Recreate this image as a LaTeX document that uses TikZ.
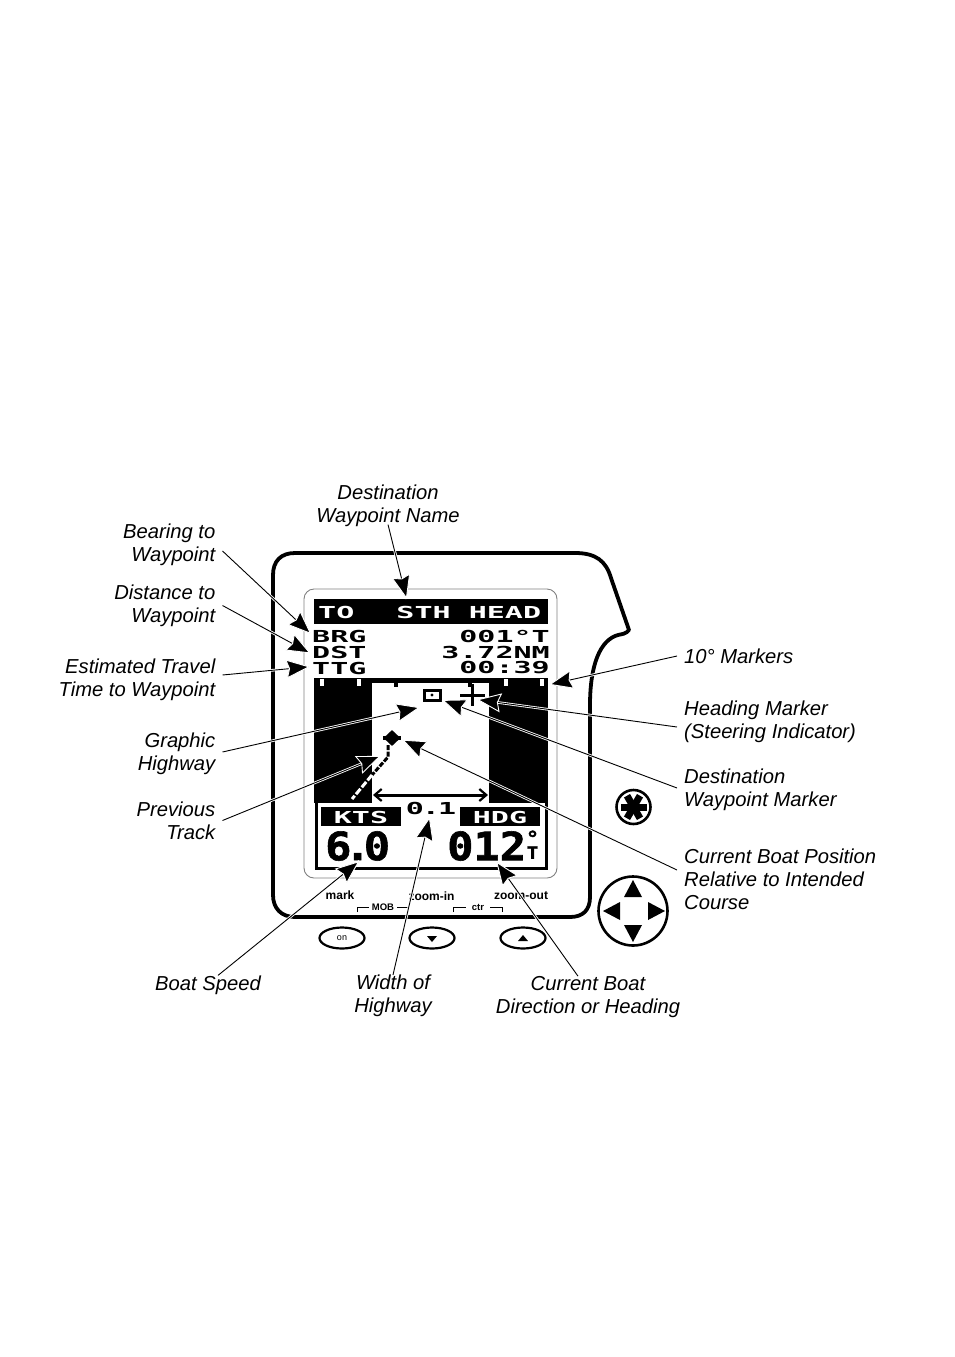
\documentclass[tikz,border=0pt]{standalone}
\usepackage{fontspec}
\usetikzlibrary{arrows.meta,shapes.geometric}
\setmainfont{Liberation Sans}
\newfontfamily\lcdfont[FakeStretch=1.82]{DejaVu Sans Mono}
\newfontfamily\lcdbig[FakeStretch=1.12,FakeBold=1.5]{DejaVu Sans Mono}
\tikzset{
	callout/.style={font=\fontsize{20.2}{23}\selectfont\itshape,inner xsep=7pt,inner ysep=0pt},
	calloutr/.style={callout,align=right,anchor=east},
	calloutl/.style={callout,align=left,anchor=west},
	calloutc/.style={callout,align=center},
	leader/.style={line width=.9pt,shorten >=-3pt,preaction={draw=white,line width=2.6pt,arrows=-},-{Stealth[length=24pt,width=19pt,inset=3pt,fill=black,color=white,line width=.9pt]}},
	lcd/.style={font=\fontsize{16.5}{16.5}\lcdfont\bfseries,inner sep=0pt},
	lcdbar/.style={lcd,text=white},
	lcdlarge/.style={font=\fontsize{39}{39}\lcdbig\bfseries,inner sep=0pt},
	keytext/.style={font=\fontsize{12}{12}\selectfont\bfseries,inner sep=0pt},
	keysmall/.style={font=\fontsize{9.5}{10}\selectfont\bfseries,inner ysep=0pt},
	keybtn/.style={draw,line width=2.2pt,ellipse,minimum width=45pt,minimum height=21pt,inner sep=0pt,fill=white},
	padtip/.style={fill=black,draw=none}
}
\begin{document}
\begin{tikzpicture}[x=1pt,y=-1pt]
	\useasboundingbox (0,0) rectangle (954,1357);
	% case
	\draw[line width=3.8pt,line join=round] (295,917) .. controls (281,917) and (273,908) .. (273,895) -- (273,575)
		.. controls (273,561) and (281,553) .. (295,553) -- (575,553)
		.. controls (596,553) and (606,561) .. (611,578) -- (629,630)
		.. controls (626,634) and (622,634) .. (618,635) .. controls (600,640) and (590,665) .. (590,705)
		-- (590,897) .. controls (590,910) and (583,917) .. (570,917) -- cycle;
	\draw[gray,line width=.9pt,rounded corners=10pt] (304,589) rectangle (557,878);
	% top of the screen
	\fill (314,599) rectangle (548,624);
	\node[lcdbar,anchor=west] (lcdHead) at (318,612) {TO\ \ \hspace{6pt}STH HEAD};
	\node[lcd,anchor=west] (lcdBrg) at (312,636) {BRG};
	\node[lcd,anchor=west] (lcdDst) at (312,652) {DST};
	\node[lcd,anchor=west] (lcdTtg) at (312,668) {TTG};
	\node[lcd,anchor=east] (valBrg) at (550,636) {001°T};
	\node[lcd,anchor=east] (valDst) at (550,652) {3.72NM};
	\node[lcd,anchor=east] (valTtg) at (550,668) {00:39};
	% highway
	\fill (314,678) rectangle (548,683);
	\fill (314,678) rectangle (372,803);
	\fill (489,678) rectangle (548,803);
	\foreach \tickx in {322,359,506,542}
		\draw[white,line width=3.2pt] (\tickx,679) -- (\tickx,686);
	\foreach \tickx in {396,470}
		\draw[line width=3.2pt] (\tickx,683) -- (\tickx,687);
	\node[draw,line width=3pt,minimum width=16pt,minimum height=10pt,inner sep=0pt] (wptBox) at (432,695) {};
	\fill (432,695) circle (1.6pt);
	\coordinate (plusMid) at (472,695);
	\draw[line width=3pt] (460,695) -- (485,695) (plusMid) ++(0,-11) -- ++(0,22);
	\node[diamond,fill=black,minimum width=17pt,minimum height=16pt,inner sep=0pt] (boatPos) at (392,738) {};
	\draw[line width=3.4pt] (boatPos.west) -- (boatPos.east);
	\draw[line width=3pt,dash pattern=on 5pt off 1.5pt] (388,745) -- (388,757) -- (372,775);
	\draw[white,line width=3pt,dash pattern=on 7pt off 2pt] (372,775) -- (352,799);
	\draw[line width=3pt,{Straight Barb[length=7pt,width=12pt,line width=2.2pt]}-{Straight Barb[length=7pt,width=12pt,line width=2.2pt]}] (373,795) -- (488,795);
	% lower panel
	\fill[white] (316,803) rectangle (546,868);
	\draw[line width=3pt] (316,802) -- (316,868) -- (546,868) -- (546,802);
	\fill (321,807) rectangle (401,826);
	\fill (460,807) rectangle (540,826);
	\node[lcdbar] (lcdKts) at (361,817) {KTS};
	\node[lcdbar] (lcdHdg) at (500,817) {HDG};
	\node[lcd] (lcdWidth) at (431,808) {0\kern-2pt.\kern-2pt1};
	\node[lcdlarge,anchor=west] (lcdSpeed) at (325,846) {6\kern-7pt.\kern-7pt0};
	\node[lcdlarge,anchor=west] (lcdCourse) at (447,846) {012\kern-2pt};
	\node[font=\lcdbig\bfseries,inner sep=0pt,align=center,anchor=south] (lcdTrue) at (532.5,859) {\fontsize{20}{14}\selectfont °\\\fontsize{17}{12}\selectfont T};
	% keys
	\node[keytext] (keyMark) at (340,895) {mark};
	\node[keytext] (keyIn) at (431.5,896) {zoom-in};
	\node[keytext] (keyOut) at (521,896) {zoom-out};
	\node[keysmall,inner xsep=3pt] (keyMob) at (383,907) {MOB};
	\node[keysmall,inner xsep=5.5pt] (keyCtr) at (478,907) {ctr};
	\draw[line width=.8pt] (357,912) |- (keyMob.west);
	\draw[line width=.8pt] (407,912) |- (keyMob.east);
	\draw[line width=.8pt] (453,912) |- (keyCtr.west);
	\draw[line width=.8pt] (502,912) |- (keyCtr.east);
	\node[keybtn] (btnOn) at (342,938) {\fontsize{9}{9}\selectfont on};
	\node[keybtn] (btnDown) at (432,938) {};
	\node[keybtn] (btnUp) at (523,938) {};
	\fill (427,936) -- (437,936) -- (432,942) -- cycle;
	\fill (518,941) -- (528,941) -- (523,935) -- cycle;
	\node[draw,circle,line width=2.6pt,minimum size=34pt,inner sep=0pt] (btnStar) at (633.5,807) {};
	\foreach \spoke in {0,60,120}
		\draw[line width=7pt] (btnStar.center) ++(\spoke:13) -- ++(\spoke+180:26);
	\node[draw,circle,line width=2.6pt,minimum size=69pt,inner sep=0pt] (btnPad) at (633,911) {};
	\fill[padtip] (633,880) -- (642,897) -- (624,897) -- cycle;
	\fill[padtip] (633,942) -- (642,925) -- (624,925) -- cycle;
	\fill[padtip] (603,911) -- (620,902) -- (620,920) -- cycle;
	\fill[padtip] (665,911) -- (648,902) -- (648,920) -- cycle;
	% labels
	\node[calloutc] (lblName) at (388,505.5) {Destination\\Waypoint Name};
	\node[calloutr] (lblBearing) at (222.5,544.5) {Bearing to\\Waypoint};
	\node[calloutr] (lblDistance) at (222.5,605.5) {Distance to\\Waypoint};
	\node[calloutr] (lblTravel) at (222.5,679.5) {Estimated Travel\\Time to Waypoint};
	\node[calloutr] (lblHighway) at (222.5,753.5) {Graphic\\Highway};
	\node[calloutr] (lblTrack) at (222.5,820.5) {Previous\\Track};
	\node[calloutc] (lblSpeed) at (208,985) {Boat Speed};
	\node[calloutc] (lblWidth) at (393,996) {Width of\\Highway};
	\node[calloutc] (lblHeading) at (588,997) {Current Boat\\Direction or Heading};
	\node[calloutl] (lblMarkers) at (677,656) {10° Markers};
	\node[calloutl] (lblSteer) at (677,721.5) {Heading Marker\\(Steering Indicator)};
	\node[calloutl] (lblWpt) at (677,789.5) {Destination\\Waypoint Marker};
	\node[calloutl] (lblBoat) at (677,879) {Current Boat Position\\Relative to Intended\\Course};
	% arrow ends
	\coordinate (tipName) at (406,596);
	\coordinate (tipBearing) at (309,632);
	\coordinate (tipDistance) at (308,652);
	\coordinate (tipTravel) at (307,667);
	\coordinate (tipHighway) at (417,708);
	\coordinate (tipTrack) at (378,757);
	\coordinate (tipSpeed) at (357,863);
	\coordinate (tipWidth) at (429,820);
	\coordinate (tipHeading) at (498,864);
	\coordinate (tipMarkers) at (552,684);
	\coordinate (tipSteer) at (480,700);
	\coordinate (tipWpt) at (445,701);
	\coordinate (tipBoat) at (405,741);
	\foreach \from/\dy/\to in {lblBearing.east/6.5/tipBearing,lblDistance.east/0/tipDistance,lblTravel.east/-4.5/tipTravel,lblHighway.east/-1.5/tipHighway,lblTrack.east/0/tipTrack,lblMarkers.west/0/tipMarkers,lblSteer.west/5.5/tipSteer,lblWpt.west/-1.5/tipWpt,lblBoat.west/-9/tipBoat}
		\draw[leader] ([yshift=-\dy pt]\from) -- (\to);
	\draw[leader] ([yshift=2pt]lblName.south) -- (tipName);
	\draw[leader] ([xshift=10pt]lblSpeed.north) -- (tipSpeed);
	\draw[leader] (lblWidth.north) -- (tipWidth);
	\draw[leader] ([xshift=-10pt]lblHeading.north) -- (tipHeading);
\end{tikzpicture}
\end{document}
